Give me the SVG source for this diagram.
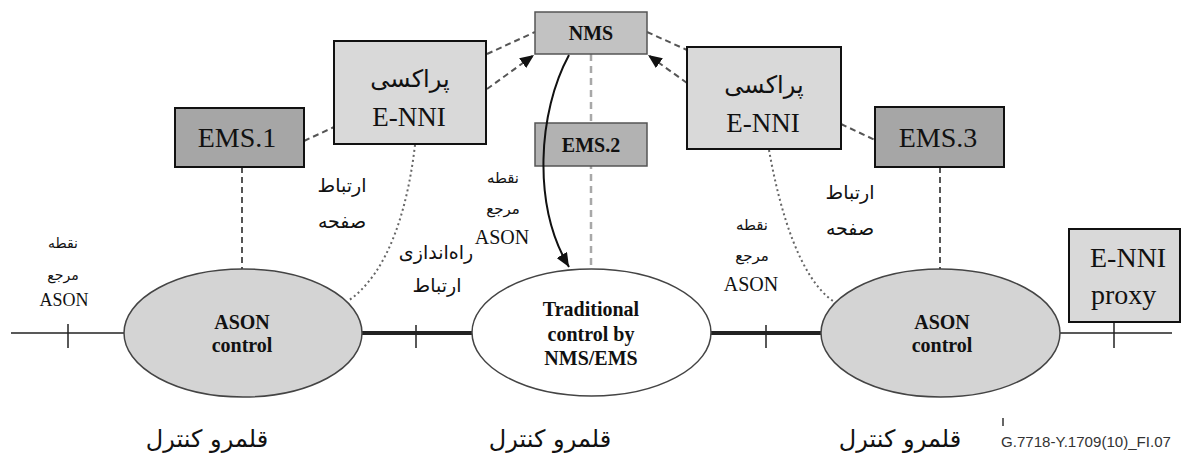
<svg xmlns="http://www.w3.org/2000/svg" width="1195" height="458" viewBox="0 0 1195 458">
<defs>
<style>
.bd{fill:#a6a6a6;stroke:#111;stroke-width:2}
.bl{fill:#d9d9d9;stroke:#111;stroke-width:2}
.bm{fill:#c2c2c2;stroke:#555;stroke-width:1.5}
.bm2{fill:#b2b2b2;stroke:#555;stroke-width:1.5}
.dash{stroke:#555;stroke-width:2;stroke-dasharray:6 4;fill:none}
.dashl{stroke:#a8a8a8;stroke-width:2.5;stroke-dasharray:7 5;fill:none}
.dot{stroke:#666;stroke-width:2;stroke-dasharray:2 3;fill:none}
.ln{stroke:#222;fill:none}
.se{font-family:"Liberation Serif",serif;fill:#111}
.fa{font-family:"DejaVu Sans","Noto Sans",sans-serif;fill:#111;text-anchor:middle}
.c{text-anchor:middle}
</style>
<marker id="ah" viewBox="0 0 14 12" refX="14" refY="6" markerWidth="14" markerHeight="12" markerUnits="userSpaceOnUse" orient="auto"><path d="M0,0 L14,6 L0,12 z" fill="#111"/></marker>
</defs>
<rect width="1195" height="458" fill="#fff"/>

<g id="connectors">
<line class="ln" x1="11" y1="333" x2="124" y2="333" stroke-width="1.5"/>
<line class="ln" x1="362" y1="333" x2="472" y2="333" stroke-width="4"/>
<line class="ln" x1="711" y1="333" x2="821" y2="333" stroke-width="4"/>
<line class="ln" x1="1060" y1="333" x2="1172" y2="333" stroke-width="1.5"/>
<line class="ln" x1="68" y1="324" x2="68" y2="348" stroke-width="1.5"/>
<line class="ln" x1="416" y1="325" x2="416" y2="348" stroke-width="1.5"/>
<line class="ln" x1="766" y1="325" x2="766" y2="348" stroke-width="1.5"/>
<line class="ln" x1="1114" y1="322" x2="1114" y2="348" stroke-width="1.5"/>
<line class="dash" x1="242" y1="167" x2="242" y2="269"/>
<line class="dash" x1="940" y1="167" x2="940" y2="269"/>
<line class="dash" x1="304" y1="141" x2="334" y2="127"/>
<line class="dash" x1="841" y1="124" x2="875" y2="140"/>
<line class="dash" x1="487" y1="54" x2="535" y2="32"/>
<line class="dash" x1="647" y1="32" x2="687" y2="50"/>
<line class="dash" x1="487" y1="89" x2="534" y2="55" marker-end="url(#ah)"/>
<line class="dash" x1="687" y1="83" x2="648" y2="55" marker-end="url(#ah)"/>
<line class="dashl" x1="591" y1="54" x2="591" y2="269"/>
<path class="dot" d="M415,145 C408,205 390,272 348,301"/>
<path class="dot" d="M769,150 C780,212 800,278 833,301"/>
</g>

<g id="nms"><rect class="bm" x="535" y="12" width="112" height="42"/><text class="se c" x="591" y="40" font-size="20" font-weight="bold">NMS</text></g>
<g id="ems2"><rect class="bm2" x="535" y="123" width="112" height="43"/><text class="se c" x="591" y="152" font-size="20" font-weight="bold">EMS.2</text></g>
<g id="curve"><path d="M569,55 C538,112 532,205 569,267" fill="none" stroke="#111" stroke-width="2" marker-end="url(#ah)"/></g>

<g id="proxy1"><rect class="bl" x="334" y="41" width="152" height="103"/><text class="fa" x="410" y="87" font-size="24">پراکسی</text><text class="se c" x="409" y="126" font-size="27">E-NNI</text></g>
<g id="proxy2"><rect class="bl" x="687" y="47" width="154" height="102"/><text class="fa" x="764" y="93" font-size="24">پراکسی</text><text class="se c" x="763" y="132" font-size="27">E-NNI</text></g>
<g id="ems1"><rect class="bd" x="175" y="108" width="129" height="59"/><text class="se c" x="237" y="147" font-size="28">EMS.1</text></g>
<g id="ems3"><rect class="bd" x="875" y="107" width="129" height="60"/><text class="se c" x="938" y="147" font-size="28">EMS.3</text></g>
<g id="proxy3"><rect class="bl" x="1069" y="229" width="111" height="93"/><text class="se" x="1090" y="267" font-size="28">E-NNI</text><text class="se" x="1091" y="304" font-size="28">proxy</text></g>

<g id="ason1"><ellipse cx="243" cy="333" rx="119" ry="64" fill="#d4d4d4" stroke="#444" stroke-width="1.5"/><text class="se c" x="242" y="329" font-size="20" font-weight="bold">ASON</text><text class="se c" x="242" y="352" font-size="20" font-weight="bold">control</text></g>
<g id="trad"><ellipse cx="591.5" cy="332.5" rx="119.5" ry="63.5" fill="#fff" stroke="#444" stroke-width="1.5"/><text class="se c" x="591" y="316" font-size="20" font-weight="bold">Traditional</text><text class="se c" x="591" y="341" font-size="20" font-weight="bold">control by</text><text class="se c" x="591" y="365" font-size="20" font-weight="bold">NMS/EMS</text></g>
<g id="ason2"><ellipse cx="940.5" cy="333" rx="119.5" ry="64" fill="#d4d4d4" stroke="#444" stroke-width="1.5"/><text class="se c" x="942" y="329" font-size="20" font-weight="bold">ASON</text><text class="se c" x="942" y="352" font-size="20" font-weight="bold">control</text></g>

<g id="labels">
<text class="fa" x="63" y="248" font-size="14">نقطه</text>
<text class="fa" x="63" y="280" font-size="14">مرجع</text>
<text class="se c" x="64" y="306" font-size="18">ASON</text>
<text class="fa" x="342" y="192" font-size="19">ارتباط</text>
<text class="fa" x="342" y="228" font-size="19">صفحه</text>
<text class="fa" x="503" y="183" font-size="15">نقطه</text>
<text class="fa" x="503" y="214" font-size="15">مرجع</text>
<text class="se c" x="502" y="244" font-size="20">ASON</text>
<text class="fa" x="436" y="259" font-size="19">راه‌اندازی</text>
<text class="fa" x="437" y="292" font-size="19">ارتباط</text>
<text class="fa" x="752" y="230" font-size="15">نقطه</text>
<text class="fa" x="752" y="261" font-size="15">مرجع</text>
<text class="se c" x="751" y="291" font-size="20">ASON</text>
<text class="fa" x="850" y="199" font-size="19">ارتباط</text>
<text class="fa" x="850" y="235" font-size="19">صفحه</text>
<text class="fa" x="207" y="447" font-size="24">قلمرو کنترل</text>
<text class="fa" x="550" y="447" font-size="24">قلمرو کنترل</text>
<text class="fa" x="900" y="447" font-size="24">قلمرو کنترل</text>
<line x1="1003" y1="418" x2="1003" y2="426" stroke="#333" stroke-width="1.5"/>
<text x="1001" y="447" font-family="Liberation Sans,Arial,sans-serif" font-size="14" fill="#333" textLength="170" lengthAdjust="spacingAndGlyphs">G.7718-Y.1709(10)_FI.07</text>
</g>
</svg>
